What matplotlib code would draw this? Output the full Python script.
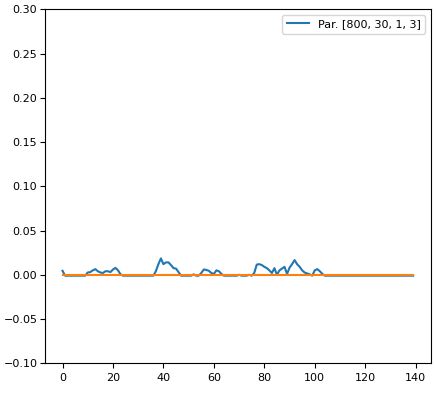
import numpy as np
import matplotlib
matplotlib.use('Agg')
import matplotlib.pyplot as plt

plt.rcParams['font.size'] = 8

B = -0.001  # flat level of the blue series

# blue series values at x = 0..139
bumps = {
    0: 0.0045,
    10: 0.0026, 11: 0.003, 12: 0.005, 13: 0.0064, 14: 0.004, 15: 0.0026,
    16: 0.002, 17: 0.004, 18: 0.004, 19: 0.003, 20: 0.006, 21: 0.0078,
    22: 0.005, 23: 0.0005,
    37: 0.004, 38: 0.012, 39: 0.0185, 40: 0.012, 41: 0.014, 42: 0.014,
    43: 0.011, 44: 0.0075, 45: 0.007, 46: 0.003,
    52: 0.0005,
    55: 0.002, 56: 0.006, 57: 0.0055, 58: 0.0045, 59: 0.002, 60: 0.001,
    61: 0.005, 62: 0.004, 63: 0.001,
    70: 0.0, 74: 0.0,
    76: 0.002, 77: 0.0115, 78: 0.012, 79: 0.011, 80: 0.009, 81: 0.0075,
    82: 0.005, 83: 0.002, 84: 0.0075, 85: 0.0, 86: 0.005, 87: 0.007,
    88: 0.009, 89: 0.001, 90: 0.008, 91: 0.012, 92: 0.0166, 93: 0.012,
    94: 0.009, 95: 0.005, 96: 0.0025, 97: 0.0015, 98: 0.0005,
    100: 0.005, 101: 0.0064, 102: 0.004, 103: 0.001,
}
n_points = 140
blue = [bumps.get(i, B) for i in range(n_points)]
orange = [0.0] * n_points
label = 'Par. [800, 30, 1, 3]'

fig = plt.figure(figsize=(4.36, 3.93), dpi=100)
ax = fig.add_axes([0.1032, 0.0756, 0.8846, 0.9008])
ax.plot(blue, label=label)
ax.plot(orange)
ax.set_ylim(-0.1, 0.3)
ax.tick_params(axis='y', pad=2)
ax.legend(loc='upper right')
fig.savefig('out.png', dpi=100)
